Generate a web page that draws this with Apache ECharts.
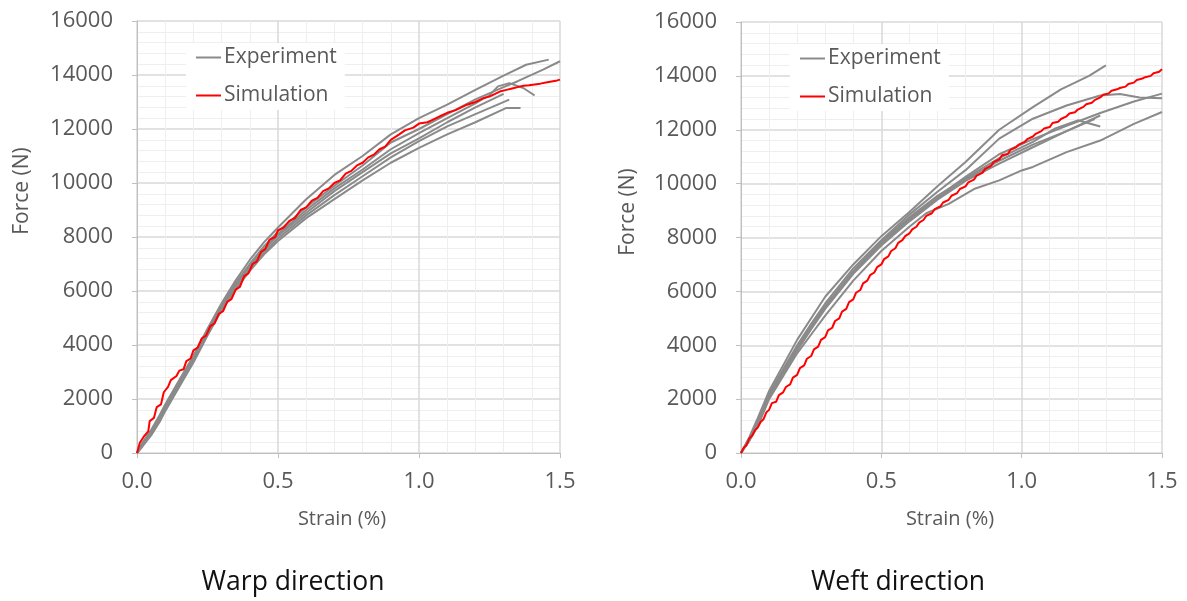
<!DOCTYPE html>
<html>
<head>
<meta charset="utf-8">
<title>Warp / Weft tensile curves</title>
<script src="https://cdn.jsdelivr.net/npm/echarts@6/dist/echarts.min.js"></script>
<style>
  html, body { margin: 0; padding: 0; background: #fff; }
  #chart { width: 1187px; height: 601px; }
</style>
</head>
<body>
<div id="chart"></div>
<script>
// Axis ticks
const strainTicks = [0, 0.5, 1.0, 1.5];
const forceTicks = [0, 2000, 4000, 6000, 8000, 10000, 12000, 14000, 16000];

// Warp direction: experimental curves [strain %, force N]
const warpExp1 = [[0,0],[0.02,400],[0.05,850],[0.08,1400],[0.1,1800],[0.15,2700],[0.2,3600],[0.25,4600],[0.3,5550],[0.35,6400],[0.4,7150],[0.45,7800],[0.5,8350],[0.6,9400],[0.7,10300],[0.8,11000],[0.9,11800],[1.0,12400],[1.1,12900],[1.2,13450],[1.3,13980],[1.38,14380],[1.46,14570]];
const warpExp2 = [[0,0],[0.02,350],[0.05,800],[0.08,1300],[0.1,1700],[0.15,2600],[0.2,3500],[0.25,4500],[0.3,5450],[0.35,6300],[0.4,7000],[0.45,7650],[0.5,8200],[0.6,9100],[0.7,9900],[0.8,10650],[0.9,11500],[1.0,12000],[1.1,12550],[1.2,13100],[1.3,13550],[1.35,13770],[1.44,14200],[1.5,14510]];
const warpExp3 = [[0,0],[0.02,300],[0.05,700],[0.08,1250],[0.1,1650],[0.15,2550],[0.2,3450],[0.25,4450],[0.3,5400],[0.35,6250],[0.4,6950],[0.45,7550],[0.5,8100],[0.6,9000],[0.7,9800],[0.8,10500],[0.9,11250],[1.0,11850],[1.1,12400],[1.2,12950],[1.25,13250],[1.28,13580],[1.32,13700],[1.37,13520],[1.41,13240]];
const warpExp4 = [[0,0],[0.02,250],[0.05,650],[0.08,1150],[0.1,1550],[0.15,2450],[0.2,3350],[0.25,4350],[0.3,5300],[0.35,6100],[0.4,6800],[0.45,7400],[0.5,7950],[0.6,8800],[0.7,9550],[0.8,10250],[0.9,10950],[1.0,11550],[1.1,12100],[1.2,12550],[1.32,13090]];
const warpExp5 = [[0,0],[0.02,280],[0.05,700],[0.08,1200],[0.1,1600],[0.15,2500],[0.2,3400],[0.25,4400],[0.3,5300],[0.35,6050],[0.4,6750],[0.45,7350],[0.5,7850],[0.6,8700],[0.7,9400],[0.8,10100],[0.9,10750],[1.0,11300],[1.1,11800],[1.2,12250],[1.31,12780],[1.36,12780]];
const warpExp6 = [[0,0],[0.02,300],[0.05,750],[0.08,1200],[0.1,1600],[0.15,2500],[0.2,3400],[0.25,4400],[0.3,5350],[0.35,6200],[0.4,6900],[0.45,7500],[0.5,8050],[0.6,8900],[0.7,9700],[0.8,10400],[0.9,11100],[1.0,11650],[1.1,12250],[1.2,12800],[1.3,13300]];

// Warp direction: simulated curve
const warpSim = [[0,0],[0.01,380],[0.025,620],[0.04,800],[0.045,1180],[0.06,1300],[0.07,1700],[0.085,1800],[0.095,2250],[0.11,2450],[0.12,2700],[0.14,2850],[0.15,3050],[0.165,3100],[0.175,3400],[0.19,3500],[0.2,3800],[0.215,3900],[0.23,4250],[0.245,4350],[0.26,4700],[0.275,4800],[0.29,5150],[0.305,5250],[0.32,5600],[0.335,5700],[0.35,6050],[0.365,6150],[0.38,6550],[0.395,6650],[0.41,7000],[0.425,7100],[0.44,7450],[0.455,7550],[0.47,7900],[0.49,8000],[0.5,8250],[0.52,8350],[0.54,8600],[0.56,8700],[0.58,9000],[0.6,9100],[0.62,9350],[0.64,9450],[0.66,9700],[0.68,9800],[0.7,10000],[0.72,10100],[0.74,10350],[0.76,10450],[0.78,10650],[0.8,10750],[0.82,10950],[0.84,11050],[0.86,11250],[0.88,11350],[0.9,11600],[0.93,11800],[0.95,11950],[0.98,12050],[1.0,12200],[1.03,12250],[1.05,12350],[1.08,12500],[1.1,12600],[1.13,12700],[1.15,12800],[1.17,12900],[1.2,13000],[1.23,13150],[1.25,13200],[1.27,13300],[1.29,13400],[1.31,13450],[1.33,13500],[1.35,13550],[1.37,13600],[1.39,13620],[1.41,13650],[1.43,13680],[1.45,13720],[1.47,13760],[1.49,13800],[1.5,13830]];

// Weft direction: experimental curves
const weftExp1 = [[0,0],[0.03,600],[0.06,1300],[0.1,2300],[0.15,3250],[0.2,4200],[0.25,5000],[0.3,5800],[0.4,7000],[0.5,8050],[0.6,8950],[0.7,9900],[0.8,10800],[0.92,12000],[1.04,12840],[1.14,13500],[1.24,14000],[1.3,14390]];
const weftExp2 = [[0,0],[0.03,550],[0.06,1200],[0.1,2200],[0.15,3100],[0.2,4000],[0.25,4800],[0.3,5550],[0.4,6850],[0.5,7900],[0.6,8850],[0.7,9700],[0.8,10500],[0.92,11670],[1.04,12410],[1.16,12900],[1.28,13270],[1.35,13330],[1.42,13200],[1.5,13170]];
const weftExp3 = [[0,0],[0.03,500],[0.06,1100],[0.1,2100],[0.15,3000],[0.2,3850],[0.25,4650],[0.3,5400],[0.4,6700],[0.5,7800],[0.6,8700],[0.7,9500],[0.8,10250],[0.92,11090],[1.04,11650],[1.16,12150],[1.28,12620],[1.4,13050],[1.5,13340]];
const weftExp4 = [[0,0],[0.03,500],[0.06,1150],[0.1,2150],[0.15,3050],[0.2,3900],[0.25,4700],[0.3,5450],[0.4,6750],[0.5,7850],[0.6,8750],[0.7,9550],[0.8,10200],[0.92,10950],[1.04,11550],[1.12,12050],[1.2,12350],[1.28,12120]];
const weftExp5 = [[0,0],[0.03,480],[0.06,1050],[0.1,2050],[0.15,2950],[0.2,3800],[0.25,4600],[0.3,5350],[0.4,6650],[0.5,7700],[0.6,8600],[0.7,9400],[0.8,10100],[0.92,10740],[1.04,11350],[1.16,11950],[1.28,12530]];
const weftExp6 = [[0,0],[0.03,520],[0.06,1150],[0.1,2100],[0.15,3000],[0.2,3850],[0.25,4650],[0.27,5000],[0.3,5400],[0.4,6700],[0.5,7750],[0.6,8650],[0.7,9450],[0.8,10150],[0.92,10850],[1.04,11450],[1.16,11950],[1.26,12400]];
const weftExp7 = [[0,0],[0.03,450],[0.06,1000],[0.1,2000],[0.15,2850],[0.2,3700],[0.25,4400],[0.3,5100],[0.4,6400],[0.5,7500],[0.6,8400],[0.66,8900],[0.74,9250],[0.83,9800],[0.92,10120],[1.0,10490],[1.04,10620],[1.16,11170],[1.28,11600],[1.4,12220],[1.5,12660]];

// Weft direction: simulated curve
const weftSim = [[0,0],[0.01,200],[0.02,300],[0.03,550],[0.04,650],[0.05,850],[0.06,950],[0.07,1150],[0.08,1250],[0.09,1500],[0.1,1600],[0.11,1850],[0.125,1900],[0.135,2150],[0.15,2250],[0.16,2450],[0.175,2550],[0.185,2800],[0.2,2900],[0.21,3150],[0.225,3250],[0.235,3500],[0.25,3600],[0.26,3850],[0.275,3950],[0.285,4200],[0.3,4300],[0.31,4550],[0.325,4650],[0.335,4900],[0.35,5000],[0.36,5250],[0.375,5350],[0.385,5600],[0.4,5700],[0.41,5950],[0.425,6050],[0.435,6300],[0.45,6400],[0.46,6600],[0.475,6700],[0.485,6900],[0.5,7000],[0.51,7200],[0.525,7300],[0.535,7500],[0.55,7600],[0.56,7800],[0.575,7900],[0.585,8050],[0.6,8150],[0.61,8300],[0.625,8400],[0.635,8550],[0.65,8650],[0.66,8800],[0.68,8900],[0.69,9050],[0.71,9150],[0.72,9300],[0.74,9400],[0.75,9550],[0.77,9650],[0.78,9800],[0.8,9900],[0.81,10050],[0.83,10150],[0.84,10300],[0.86,10400],[0.87,10550],[0.89,10650],[0.9,10800],[0.92,10900],[0.93,11050],[0.95,11100],[0.96,11250],[0.98,11350],[0.99,11450],[1.01,11550],[1.02,11650],[1.04,11750],[1.05,11850],[1.07,11950],[1.08,12050],[1.1,12100],[1.11,12250],[1.13,12300],[1.14,12400],[1.16,12500],[1.17,12600],[1.19,12650],[1.2,12750],[1.22,12850],[1.23,12950],[1.25,13000],[1.26,13100],[1.28,13200],[1.29,13300],[1.31,13350],[1.32,13450],[1.34,13500],[1.35,13550],[1.37,13600],[1.38,13700],[1.4,13750],[1.41,13850],[1.43,13900],[1.44,13950],[1.46,14000],[1.47,14100],[1.49,14150],[1.5,14250]];

const warpExperiments = [warpExp1, warpExp2, warpExp3, warpExp4, warpExp5, warpExp6];
const weftExperiments = [weftExp1, weftExp2, weftExp3, weftExp4, weftExp5, weftExp6, weftExp7];

const GREY = '#8a8a8a';
const RED = '#ff0000';
const TEXT = '#595959';
const FONT = '"Open Sans", "Noto Sans", sans-serif';

function xAxisFor(gridIndex) {
  return {
    type: 'value', gridIndex,
    min: strainTicks[0], max: strainTicks[strainTicks.length - 1], interval: 0.5,
    axisLine: { show: true, lineStyle: { color: '#bfbfbf', width: 1 } },
    axisTick: { show: true, length: 5, lineStyle: { color: '#bfbfbf' } },
    axisLabel: { color: TEXT, fontSize: 22, fontFamily: FONT, margin: 18,
                 formatter: v => v.toFixed(1) },
    splitLine: { show: true, lineStyle: { color: '#d9d9d9', width: 1.5 } },
    minorTick: { show: false, splitNumber: 5 },
    minorSplitLine: { show: true, lineStyle: { color: '#efefef', width: 1 } }
  };
}
function yAxisFor(gridIndex) {
  return {
    type: 'value', gridIndex,
    min: forceTicks[0], max: forceTicks[forceTicks.length - 1], interval: 2000,
    axisLine: { show: true, lineStyle: { color: '#bfbfbf', width: 1 } },
    axisTick: { show: true, length: 5, lineStyle: { color: '#bfbfbf' } },
    axisLabel: { color: TEXT, fontSize: 22, fontFamily: FONT, margin: 24,
                 formatter: v => String(v) },
    splitLine: { show: true, lineStyle: { color: '#d9d9d9', width: 1.5 } },
    minorTick: { show: false, splitNumber: 5 },
    minorSplitLine: { show: true, lineStyle: { color: '#efefef', width: 1 } }
  };
}

function lineSeries(name, data, idx, color) {
  return {
    name, type: 'line', data, xAxisIndex: idx, yAxisIndex: idx,
    showSymbol: false, symbol: 'none', silent: true,
    lineStyle: { color, width: 2 }, itemStyle: { color },
    z: color === RED ? 5 : 3
  };
}

const series = [];
warpExperiments.forEach(d => series.push(lineSeries('Experiment', d, 0, GREY)));
series.push(lineSeries('Simulation', warpSim, 0, RED));
weftExperiments.forEach(d => series.push(lineSeries('Experiment', d, 1, GREY)));
series.push(lineSeries('Simulation', weftSim, 1, RED));

function legendAt(left, top) {
  return {
    left, top, orient: 'vertical',
    backgroundColor: '#ffffff',
    padding: [4, 8, 4, 10],
    itemGap: 17, itemWidth: 25, itemHeight: 2,
    selectedMode: false,
    textStyle: { color: TEXT, fontSize: 21, fontFamily: FONT, padding: [0, 0, 0, -2] },
    data: [
      { name: 'Experiment', icon: 'rect', itemStyle: { color: GREY } },
      { name: 'Simulation', icon: 'rect', itemStyle: { color: RED } }
    ]
  };
}

function label(text, x, y, size, color, rotation) {
  return {
    type: 'text', x, y, rotation: rotation || 0, silent: true,
    style: { text, fill: color, font: size + 'px ' + FONT,
             textAlign: 'center', textVerticalAlign: 'middle' }
  };
}

const chart = echarts.init(document.getElementById('chart'), null, { renderer: 'canvas' });
chart.setOption({
  animation: false,
  backgroundColor: '#ffffff',
  grid: [
    { left: 137, top: 21, width: 423, height: 432 },
    { left: 741, top: 22, width: 421, height: 431 }
  ],
  xAxis: [xAxisFor(0), xAxisFor(1)],
  yAxis: [yAxisFor(0), yAxisFor(1)],
  legend: [legendAt(186, 43), legendAt(790, 44)],
  series,
  graphic: [
    label('Force (N)', 22, 191, 21, TEXT, Math.PI / 2),
    label('Force (N)', 628, 212, 21, TEXT, Math.PI / 2),
    label('Strain (%)', 342, 519, 20, TEXT),
    label('Strain (%)', 950, 519, 20, TEXT),
    label('Warp direction', 293, 582, 26.5, '#111111'),
    label('Weft direction', 898, 582, 26.5, '#111111')
  ]
});
</script>
</body>
</html>
